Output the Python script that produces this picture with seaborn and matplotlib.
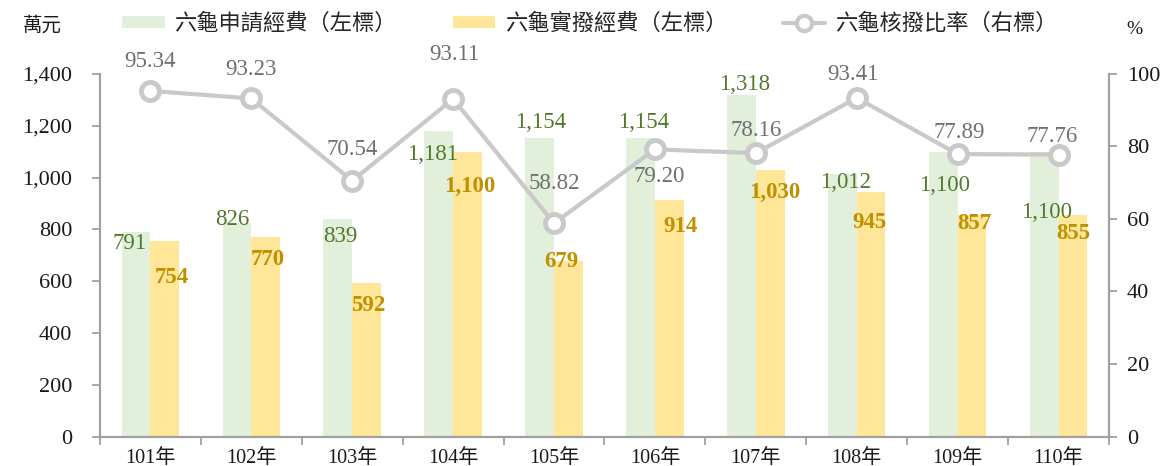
import matplotlib
matplotlib.use("Agg")
import matplotlib.pyplot as plt
from matplotlib.lines import Line2D
from matplotlib.patches import Patch
from matplotlib.ticker import FixedLocator, StrMethodFormatter
import numpy as np
import pandas as pd
import seaborn as sns


years = ["101年", "102年", "103年", "104年", "105年", "106年", "107年", "108年", "109年", "110年"]
applied = [791, 826, 839, 1181, 1154, 1154, 1318, 1012, 1100, 1100]
granted = [754, 770, 592, 1100, 679, 914, 1030, 945, 857, 855]
rate = [95.34, 93.23, 70.54, 93.11, 58.82, 79.20, 78.16, 93.41, 77.89, 77.76]

label_applied = "六龜申請經費（左標）"
label_granted = "六龜實撥經費（左標）"
label_rate = "六龜核撥比率（右標）"

# label offsets in pixels (dx, dy up) - hand placed like the source chart
applied_offsets = [(-6, -12), (-5, 3), (2, -17), (-6, -24), (1, 15), (3, 15), (3, 11), (3, -8), (1, -34), (2, -61)]
granted_offsets = [(7, -36), (2, -22), (2, -22), (2, -35), (-7, -1), (11, -27), (5, -23), (-2, -31), (2, -9), (0, -18)]
rate_offsets = [(0, 29), (0, 29), (0, 31), (1, 44), (0, 40), (4, -27), (0, 23), (-4, 23), (2, 22), (-6, 18)]

GREEN = "#E2EFDA"
YELLOW = "#FFE699"
GREEN_TXT = "#4F7A2C"
GOLD_TXT = "#BF9000"
LINE_GRAY = "#C9C9C9"
RATE_TXT = "#6F6F6F"
SPINE = "#A0A0A0"
LABEL_SIZE = 16.5

sns.set_theme(style="white")
plt.rcParams["font.family"] = ["Liberation Serif", "Noto Sans CJK TC", "DejaVu Sans"]

df = pd.DataFrame({
    "year": years * 2,
    "value": applied + granted,
    "kind": [label_applied] * len(years) + [label_granted] * len(years),
})
rate_df = pd.DataFrame({"year": years, "rate": rate})

fig = plt.figure(figsize=(11.76, 4.66), dpi=100)
ax = fig.add_axes([0.085, 0.0633, 0.858, 0.778])

sns.barplot(data=df, x="year", y="value", hue="kind", order=years,
            hue_order=[label_applied, label_granted],
            palette=[GREEN, YELLOW], width=0.57, ax=ax, legend=False,
            saturation=1, errorbar=None, linewidth=0, edgecolor="none")

ax2 = ax.twinx()
sns.pointplot(data=rate_df, x="year", y="rate", order=years, ax=ax2,
              color=LINE_GRAY, errorbar=None, linewidth=3,
              markersize=13, markeredgewidth=3.5, markerfacecolor="white")

ax.set_ylim(0, 1400)
ax2.set_ylim(0, 100)
ax.set_xlim(-0.5, len(years) - 0.5)
ax.set_yticks(np.arange(0, 1401, 200))
ax2.set_yticks(np.arange(0, 101, 20))
ax.yaxis.set_major_formatter(StrMethodFormatter("{x:,.0f}"))

ax.set_xlabel("")
ax.set_ylabel("")
ax2.set_xlabel("")
ax2.set_ylabel("")

for a in (ax, ax2):
    a.spines["top"].set_visible(False)
    for side in ("left", "right", "bottom"):
        a.spines[side].set_color(SPINE)
        a.spines[side].set_linewidth(1.5)

ax.xaxis.set_minor_locator(FixedLocator(np.arange(-0.5, len(years), 1.0)))
ax.tick_params(axis="x", which="major", length=0, pad=9, labelsize=14.5, colors="#1A1A1A")
ax.tick_params(axis="x", which="minor", bottom=True, length=6, width=1.3, color=SPINE, direction="out")
ax.tick_params(axis="y", left=True, length=6, width=1.3, color=SPINE, direction="out",
               pad=14, labelsize=16, labelcolor="#1A1A1A")
ax2.tick_params(axis="y", right=True, length=6, width=1.3, color=SPINE, direction="out",
                pad=7, labelsize=16, labelcolor="#1A1A1A")

# data labels
for bar, v, (dx, dy) in zip(ax.containers[0], applied, applied_offsets):
    ax.annotate(f"{v:,}", (bar.get_x() + bar.get_width() / 2, bar.get_height()),
                xytext=(dx, dy), textcoords="offset pixels", ha="center", va="center",
                fontsize=LABEL_SIZE, color=GREEN_TXT)
for bar, v, (dx, dy) in zip(ax.containers[1], granted, granted_offsets):
    ax.annotate(f"{v:,}", (bar.get_x() + bar.get_width() / 2, bar.get_height()),
                xytext=(dx, dy), textcoords="offset pixels", ha="center", va="center",
                fontsize=LABEL_SIZE, color=GOLD_TXT, fontweight="bold")
for i, (r, (dx, dy)) in enumerate(zip(rate, rate_offsets)):
    ax2.annotate(f"{r:.2f}", (i, r), xytext=(dx, dy), textcoords="offset pixels",
                 ha="center", va="center", fontsize=LABEL_SIZE, color=RATE_TXT)

handles = [
    Patch(facecolor=GREEN, edgecolor="none"),
    Patch(facecolor=YELLOW, edgecolor="none"),
    Line2D([0], [0], color=LINE_GRAY, linewidth=3, marker="o", markersize=11,
           markerfacecolor="white", markeredgewidth=3),
]
fig.legend(handles, [label_applied, label_granted, label_rate],
           loc="center left", bbox_to_anchor=(0.104, 0.948), ncol=3, frameon=False,
           fontsize=16, handlelength=1.9, handleheight=0.45, handletextpad=0.45,
           columnspacing=2.5, borderaxespad=0, borderpad=0)

fig.text(0.036, 0.946, "萬元", ha="center", va="center", fontsize=14, color="#1A1A1A")
fig.text(0.965, 0.936, "%", ha="center", va="center", fontsize=14, color="#1A1A1A")

fig.savefig("out.png", dpi=100)
